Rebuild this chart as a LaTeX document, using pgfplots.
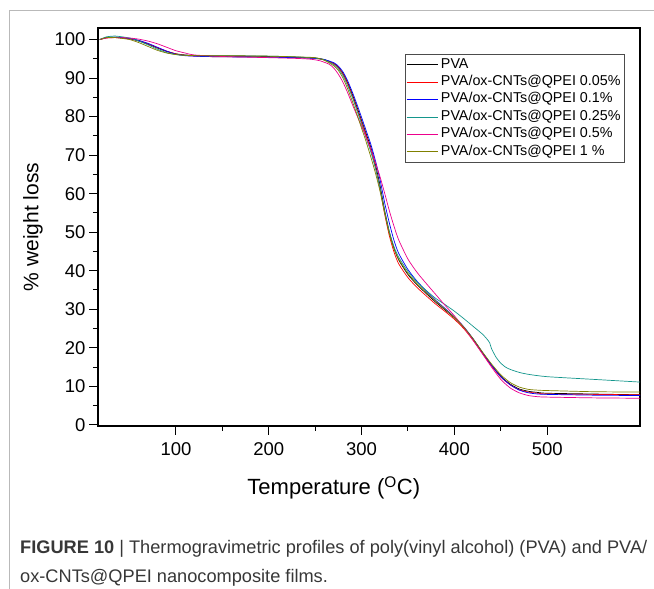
\documentclass[border=0pt]{standalone}
\usepackage{fontspec}
\setmainfont{Liberation Sans}
\usepackage{pgfplots}
\pgfplotsset{compat=1.18}
\definecolor{cteal}{RGB}{20,150,140}
\definecolor{colive}{RGB}{128,128,0}
\definecolor{capgray}{RGB}{55,55,55}
\begin{document}
\begin{tikzpicture}
\path[use as bounding box] (0pt,0pt) rectangle (654pt,589pt);
\draw[gray!55, line width=1pt] (9pt,0pt) -- (9pt,578pt) -- (654pt,578pt);
\begin{axis}[
  at={(98pt,163pt)}, anchor=south west,
  scale only axis, width=542pt, height=398pt,
  xmin=16, xmax=600, ymin=-0.3, ymax=103,
  xtick={100,200,300,400,500}, ytick={0,10,...,100},
  minor x tick num=1, minor y tick num=1,
  tick align=outside, tick pos=left,
  major tick length=9pt, minor tick length=5pt,
  tick style={black, line width=1pt},
  axis line style={line width=1.2pt},
  /pgf/number format/assume math mode=true,
  ticklabel style={font=\fontsize{18.5}{20}\selectfont},
  xticklabel style={yshift=-4pt},
  xlabel={Temperature (\textsuperscript{O}C)},
  ylabel={\% weight loss},
  xlabel style={font=\fontsize{22}{24}\selectfont, at={(axis description cs:0.435,-0.156)}, anchor=center},
  ylabel style={font=\fontsize{21}{23}\selectfont, at={(axis description cs:-0.12,0.5)}, anchor=center},
  legend style={at={(axis description cs:0.972,0.935)}, anchor=north east,
    draw=black!70, line width=0.6pt, font=\fontsize{14.3}{16}\selectfont,
    row sep=2.4pt, inner xsep=1pt, inner ysep=3pt,
    nodes={inner ysep=1pt, inner xsep=3pt, text height=10pt, text depth=3pt}},
  legend cell align=left,
  legend image code/.code={\draw[#1, line width=0.7pt] (0pt,0pt) -- (31pt,0pt);},
  every axis plot/.append style={line width=0.7pt, smooth, tension=0.4},
]
% PVA
\addplot[black] coordinates {
(18,100.0) (25,100.5) (35,100.6) (50,100.2) (60,99.6) (70,98.8) (80,97.8) (90,96.9) (100,96.3) (110,96.0) (130,95.8) (160,95.7) (200,95.6) (230,95.4) (250,95.2) (260,94.8) (270,93.8) (275,92.8) (280,91.2) (285,88.8) (290,85.8) (295,82.5) (300,79.0) (305,75.5) (310,72.0) (315,67.5) (320,62.0) (325,55.5) (330,50.0) (335,45.8) (340,42.8) (350,39.0) (360,36.3) (370,34.0) (380,31.8) (390,29.8) (400,27.8) (410,25.3) (420,22.3) (430,18.8) (440,15.5) (450,12.6) (460,10.6) (470,9.3) (480,8.7) (490,8.4) (500,8.2) (550,8.0) (600,7.8)};
\addlegendentry{PVA}
% 0.05%
\addplot[red] coordinates {
(18,100.0) (25,100.4) (35,100.5) (50,100.2) (60,99.7) (70,98.9) (80,97.9) (90,97.0) (100,96.3) (110,95.9) (130,95.6) (160,95.5) (200,95.5) (230,95.3) (250,95.1) (260,94.7) (270,93.7) (275,92.7) (280,91.0) (285,88.5) (290,85.4) (295,82.0) (300,78.5) (305,75.0) (310,71.3) (315,66.8) (320,61.0) (325,54.5) (330,49.0) (335,44.8) (340,41.8) (350,38.2) (360,35.6) (370,33.4) (380,31.3) (390,29.4) (400,27.4) (410,25.0) (420,22.0) (430,18.6) (440,15.3) (450,12.4) (460,10.4) (470,9.1) (480,8.5) (490,8.2) (500,8.0) (550,7.9) (600,7.8)};
\addlegendentry{PVA/ox-CNTs@QPEI 0.05\%}
% 0.1%
\addplot[blue] coordinates {
(18,100.0) (25,100.5) (35,100.6) (50,100.3) (60,99.8) (70,99.0) (80,98.0) (90,97.0) (100,96.2) (110,95.8) (130,95.6) (160,95.5) (200,95.4) (230,95.3) (250,95.1) (260,94.8) (270,94.0) (275,93.1) (280,91.6) (285,89.3) (290,86.4) (295,83.2) (300,79.8) (305,76.3) (310,72.8) (315,68.5) (320,63.5) (325,57.5) (330,52.3) (335,47.8) (340,44.5) (350,40.3) (360,37.2) (370,34.7) (380,32.3) (390,30.2) (400,28.0) (410,25.5) (420,22.4) (430,18.9) (440,15.5) (450,12.5) (460,10.4) (470,9.0) (480,8.3) (490,8.0) (500,7.9) (550,7.7) (600,7.6)};
\addlegendentry{PVA/ox-CNTs@QPEI 0.1\%}
% 0.25%
\addplot[cteal] coordinates {
(18,100.0) (25,100.7) (35,100.9) (50,100.4) (60,99.6) (70,98.6) (80,97.5) (90,96.6) (100,96.1) (110,95.9) (130,95.8) (160,95.8) (200,95.7) (230,95.5) (250,95.2) (260,94.7) (270,93.5) (275,92.4) (280,90.6) (285,88.0) (290,85.0) (295,81.6) (300,78.0) (305,74.4) (310,70.8) (315,66.5) (320,61.2) (325,55.2) (330,50.0) (335,46.2) (340,43.5) (350,39.8) (360,37.0) (370,34.8) (380,32.8) (390,31.2) (400,29.5) (410,27.6) (420,25.6) (430,23.6) (435,22.3) (438,21.3) (440,19.8) (445,17.5) (450,16.0) (455,15.0) (460,14.4) (470,13.6) (480,13.1) (500,12.5) (550,11.8) (600,11.1)};
\addlegendentry{PVA/ox-CNTs@QPEI 0.25\%}
% 0.5%
\addplot[magenta] coordinates {
(18,100.0) (25,100.4) (35,100.5) (50,100.4) (60,100.1) (70,99.6) (80,98.9) (90,98.0) (100,97.1) (110,96.5) (120,96.0) (150,95.6) (200,95.3) (230,95.1) (245,94.9) (255,94.5) (265,93.6) (270,92.6) (275,91.0) (280,88.9) (285,86.2) (290,83.2) (295,80.3) (300,77.5) (305,74.6) (310,71.5) (315,68.0) (320,64.3) (325,60.0) (330,55.5) (335,51.5) (340,48.0) (350,43.0) (360,39.5) (370,36.6) (380,33.8) (390,31.0) (400,28.3) (410,25.3) (420,22.0) (430,18.5) (440,15.0) (450,11.8) (460,9.6) (470,8.3) (480,7.6) (490,7.3) (500,7.2) (550,7.0) (600,6.9)};
\addlegendentry{PVA/ox-CNTs@QPEI 0.5\%}
% 1%
\addplot[colive] coordinates {
(18,100.0) (25,100.5) (35,100.5) (50,100.0) (60,99.2) (70,98.2) (80,97.2) (90,96.5) (100,96.1) (110,95.9) (130,95.8) (160,95.8) (200,95.7) (230,95.5) (250,95.3) (260,94.6) (270,93.2) (275,92.0) (280,90.0) (285,87.2) (290,84.0) (295,80.6) (300,77.0) (305,73.4) (310,69.5) (315,65.3) (320,60.5) (325,54.8) (330,49.5) (335,45.6) (340,43.0) (350,39.3) (360,36.6) (370,34.3) (380,32.1) (390,30.0) (400,27.9) (410,25.4) (420,22.4) (430,19.0) (440,15.8) (450,13.0) (460,11.0) (470,9.8) (480,9.2) (490,9.0) (500,8.9) (550,8.6) (600,8.5)};
\addlegendentry{PVA/ox-CNTs@QPEI 1 \%}
\end{axis}
\node[anchor=base west, text=capgray, font=\fontsize{18.2}{20}\selectfont, inner sep=0pt] at (20pt,35pt)
  {\textbf{FIGURE 10} | Thermogravimetric profiles of poly(vinyl alcohol) (PVA) and PVA/};
\node[anchor=base west, text=capgray, font=\fontsize{18.2}{20}\selectfont, inner sep=0pt] at (20pt,6pt)
  {ox-CNTs@QPEI nanocomposite films.};
\end{tikzpicture}
\end{document}
